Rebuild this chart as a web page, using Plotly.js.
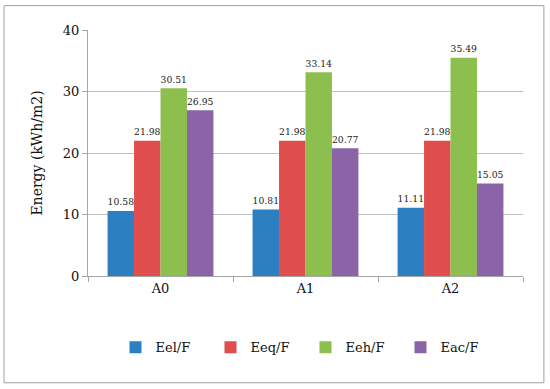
<!DOCTYPE html>
<html>
<head>
<meta charset="utf-8">
<script src="https://cdn.plot.ly/plotly-3.0.1.min.js"></script>
<style>
  body { margin: 0; background: #fff; }
  #chart { width: 550px; height: 389px; }
</style>
</head>
<body>
<div id="chart"></div>
<script>
// Data
const categories = ['A0', 'A1', 'A2'];
const seriesNames = ['Eel/F', 'Eeq/F', 'Eeh/F', 'Eac/F'];
const eel = [10.58, 10.81, 11.11];
const eeq = [21.98, 21.98, 21.98];
const eeh = [30.51, 33.14, 35.49];
const eac = [26.95, 20.77, 15.05];
const colors = ['#2C80C2', '#DF4D4D', '#8CBF4E', '#8B64A8'];

const font = '"DejaVu Serif", serif';

const data = [eel, eeq, eeh, eac].map((vals, i) => ({
    x: categories,
    y: vals,
    name: seriesNames[i],
    type: 'bar',
    marker: {color: colors[i]},
    texttemplate: '%{y:.2f}',
    textposition: 'outside',
    cliponaxis: false,
    textfont: {family: font, size: 11, color: '#222'}
}));

const layout = {
    width: 550,
    height: 389,
    margin: {l: 88, r: 27, t: 29.5, b: 113},
    paper_bgcolor: '#fff',
    plot_bgcolor: '#fff',
    font: {family: font, size: 13, color: '#111'},
    barmode: 'group',
    bargap: 0.27,
    bargroupgap: 0,
    showlegend: true,
    legend: {
        orientation: 'h',
        x: 0.5,
        xanchor: 'center',
        y: -0.29,
        yanchor: 'middle',
        font: {family: font, size: 13},
        entrywidth: 50,
        entrywidthmode: 'pixels',
        itemwidth: 30,
        traceorder: 'normal'
    },
    xaxis: {
        showline: true,
        linecolor: '#A6A6A6',
        ticks: 'outside',
        tickson: 'boundaries',
        ticklen: 5,
        tickcolor: '#A6A6A6',
        tickfont: {family: font, size: 13}
    },
    yaxis: {
        title: {text: 'Energy (kWh/m2)', font: {family: font, size: 14}, standoff: 16},
        range: [0, 40],
        dtick: 10,
        showline: true,
        linecolor: '#A6A6A6',
        gridcolor: '#BFBFBF',
        zeroline: false,
        ticks: 'outside',
        ticklen: 5,
        tickcolor: '#A6A6A6',
        tickfont: {family: font, size: 13}
    },
    shapes: [{
        type: 'rect',
        xref: 'paper', yref: 'paper',
        x0: -0.193, x1: 1.048,
        y0: -0.434, y1: 1.099,
        line: {color: '#A0A0A0', width: 1}
    }]
};

Plotly.newPlot('chart', data, layout, {staticPlot: true, displayModeBar: false});
</script>
</body>
</html>
